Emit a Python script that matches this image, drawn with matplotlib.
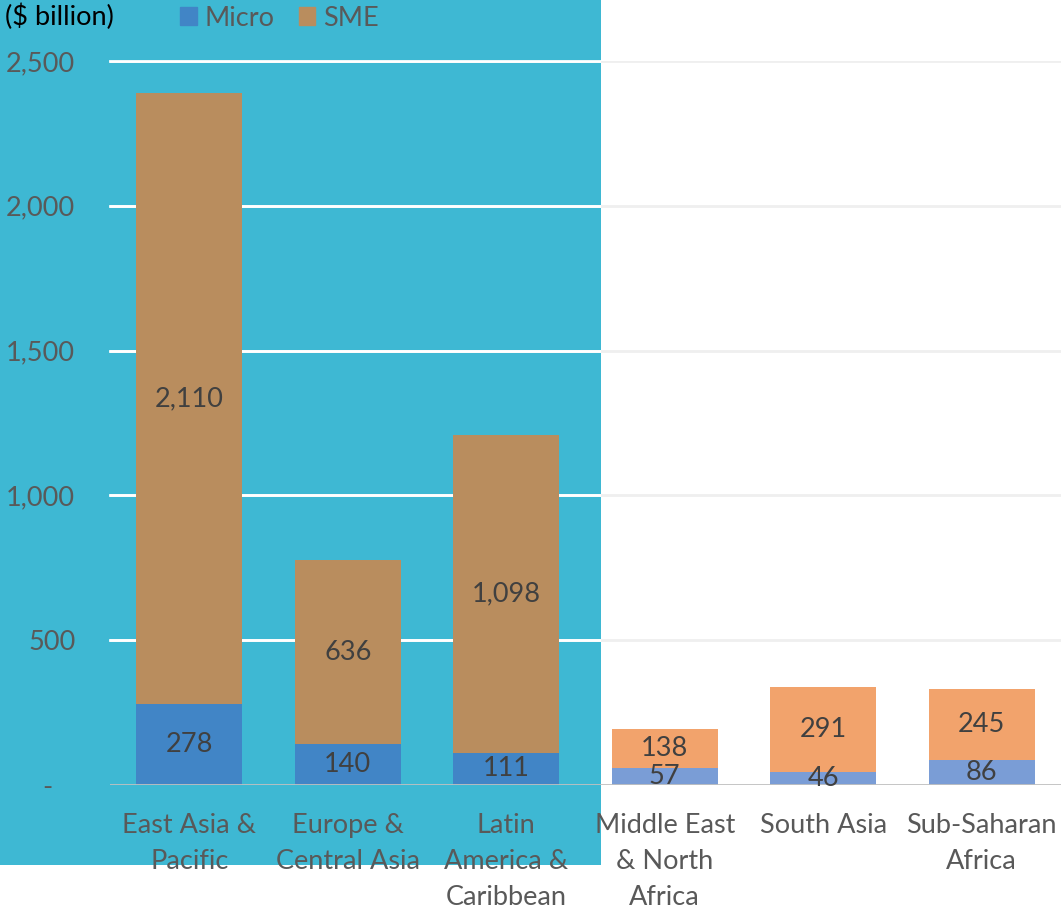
import numpy as np
import matplotlib.pyplot as plt
from matplotlib.patches import Rectangle, Patch
from matplotlib.transforms import ScaledTranslation

plt.rcParams['font.family'] = ['Lato', 'DejaVu Sans']

regions = ["East Asia &\nPacific", "Europe &\nCentral Asia", "Latin\nAmerica &\nCaribbean",
           "Middle East\n& North\nAfrica", "South Asia", "Sub-Saharan\nAfrica"]
micro = [278, 140, 111, 57, 46, 86]
sme = [2110, 636, 1098, 138, 291, 245]
yticks = [0, 500, 1000, 1500, 2000, 2500]

# first three bars sit on the cyan panel
micro_colors = ["#4185C6"] * 3 + ["#7A9DD6"] * 3
sme_colors = ["#B98D5E"] * 3 + ["#F2A36C"] * 3

FS = 19.5
W, H = 1061, 913
fig = plt.figure(figsize=(W / 100, H / 100), dpi=100)
fig.patch.set_facecolor("white")

# cyan panel behind the left part of the chart
panel = Rectangle((0, 1 - 865 / H), 601 / W, 865 / H, transform=fig.transFigure,
                  facecolor="#3EB8D3", edgecolor="none", zorder=-1)
fig.patches.append(panel)

ax = fig.add_axes([110 / W, 1 - 785 / H, 1 - 110 / W, (785 - 61) / H])
ax.set_facecolor("none")
ax.set_zorder(1)

x = np.arange(len(regions))
b1 = ax.bar(x, micro, width=0.67, color=micro_colors, zorder=3)
b2 = ax.bar(x, sme, bottom=micro, width=0.67, color=sme_colors, zorder=3)

ax.bar_label(b1, labels=[f"{v:,}" for v in micro], label_type="center",
             fontsize=FS, color="#404040", zorder=5)
ax.bar_label(b2, labels=[f"{v:,}" for v in sme], label_type="center",
             fontsize=FS, color="#404040", zorder=5)

ax.set_xlim(-0.5, len(regions) - 0.5)
ax.set_ylim(0, 2500)
ax.set_yticks(yticks)
ax.set_yticklabels(["-"] + [f"{v:,}" for v in yticks[1:]], fontsize=FS, color="#595959")
ax.set_xticks(x)
ax.set_xticklabels(regions, fontsize=FS, color="#595959", linespacing=1.55)
ax.tick_params(length=0)
ax.tick_params(axis="y", pad=25)
ax.tick_params(axis="x", pad=20)
lbl0 = ax.get_yticklabels()[0]
lbl0.set_transform(lbl0.get_transform() + ScaledTranslation(-0.23, 0, fig.dpi_scale_trans))

# grid: light grey on white, white over the panel
for v in yticks[1:]:
    ax.axhline(v, color="#EFEFEF", lw=2, zorder=1)
    ln = ax.axhline(v, color="white", lw=2, zorder=2)
    ln.set_clip_path(panel)
ax.axhline(0, color="#C0C0C0", lw=2, zorder=4)

for s in ax.spines.values():
    s.set_visible(False)

fig.text(5 / W, 1 - 17 / H, "(\\$ billion)", fontsize=FS, color="black", va="center")
handles = [Patch(color="#4185C6", label="Micro"), Patch(color="#B98D5E", label="SME")]
fig.legend(handles=handles, loc="center left", bbox_to_anchor=(156 / W, 1 - 18 / H),
           ncol=2, frameon=False, fontsize=FS, labelcolor="#595959",
           handlelength=0.6, handleheight=0.6, handletextpad=0.3, columnspacing=0.9)

fig.savefig("out.png", dpi=100)
